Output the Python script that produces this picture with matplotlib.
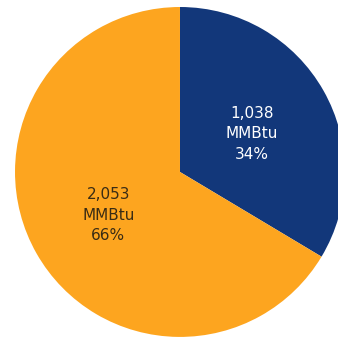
import matplotlib.pyplot as plt

# energy use split, MMBtu
valores = [1038, 2053]
cores = ['#12377A', '#FDA51F']
cores_texto = ['white', '#3a2c14']

total = sum(valores)
rotulos = ['{:,}\nMMBtu\n{:.0f}%'.format(v, 100 * v / total) for v in valores]

fig = plt.figure(figsize=(3.38, 3.37), dpi=100)
ax = fig.add_axes([0, 0, 1, 1])

fatias, textos = ax.pie(valores, colors=cores, labels=rotulos, startangle=90,
                        counterclock=False, labeldistance=0.5,
                        wedgeprops={'linewidth': 0},
                        textprops={'fontsize': 11, 'ha': 'center',
                                   'va': 'center', 'linespacing': 1.45})
for t, c in zip(textos, cores_texto):
    t.set_color(c)
    t.set_horizontalalignment('center')
    x, y = t.get_position()
    t.set_position((x, y - 0.015))

# pie is a bit larger than the frame, cut on the right
ax.set_xlim(-1.091, 0.958)
ax.set_ylim(-1.0, 1.042)
ax.set_aspect('equal')
ax.axis('off')

fig.savefig('out.png', dpi=100, facecolor='white')
